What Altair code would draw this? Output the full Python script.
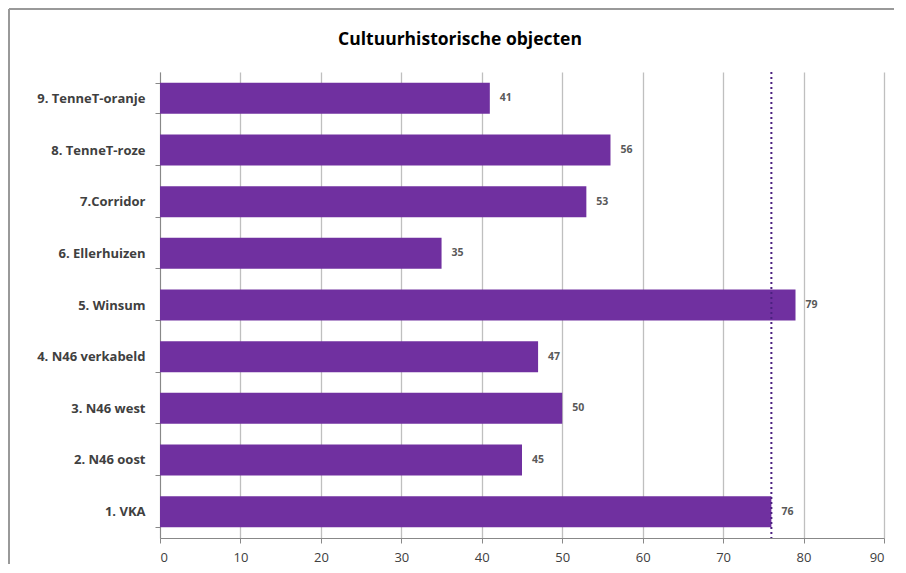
import altair as alt
import pandas as pd

categories = ["9. TenneT-oranje", "8. TenneT-roze", "7.Corridor", "6. Ellerhuizen",
              "5. Winsum", "4. N46 verkabeld", "3. N46 west", "2. N46 oost", "1. VKA"]
values = [41, 56, 53, 35, 79, 47, 50, 45, 76]
reference_value = [76]
title_text = "Cultuurhistorische objecten"

df = pd.DataFrame({"cat": categories, "val": values})
ref = pd.DataFrame({"ref": reference_value})

W, H = 724, 466
PL, PT = 152, 64

yenc = alt.Y("cat:N", sort=categories, title=None,
             scale=alt.Scale(paddingInner=0.42, paddingOuter=0.22),
             axis=alt.Axis(labelFont="Open Sans", labelFontSize=13, labelFontWeight="bold",
                           labelColor="#404040", labelPadding=10, tickBand="extent",
                           tickColor="#888888", tickSize=5, domainColor="#888888"))
xenc = alt.X("val:Q", title=None,
             scale=alt.Scale(domain=[0, 90], nice=False),
             axis=alt.Axis(values=list(range(0, 91, 10)), labelFont="Open Sans", labelFontSize=13,
                           labelColor="#404040", grid=True, gridColor="#BFBFBF", gridWidth=1.3,
                           tickColor="#888888", tickSize=5, domainColor="#888888", labelPadding=8))

bars = alt.Chart(df).mark_bar(color="#7030A0", size=31).encode(y=yenc, x=xenc)
labels = alt.Chart(df).mark_text(align="left", dx=10, font="Open Sans", fontSize=10.5,
                                 fontWeight="bold", color="#595959").encode(
    y=alt.Y("cat:N", sort=categories), x="val:Q", text="val:Q")
refline = alt.Chart(ref).mark_rule(color="#4B2080", strokeWidth=2, strokeDash=[2, 3]).encode(
    x="ref:Q")
title = alt.Chart(pd.DataFrame({"t": [title_text]})).mark_text(
    font="Open Sans", fontSize=17.5, fontWeight="bold", color="#000000", align="center").encode(
    text="t:N", x=alt.value(300), y=alt.value(-32))
frame_left = alt.Chart(pd.DataFrame({"a": [0]})).mark_rule(
    color="#999999", strokeWidth=2).encode(
    x=alt.value(-PL + 1), y=alt.value(-PT + 1), y2=alt.value(H + 80))
frame_top = alt.Chart(pd.DataFrame({"a": [0]})).mark_rule(
    color="#999999", strokeWidth=2).encode(
    x=alt.value(-PL + 1), x2=alt.value(W + 40), y=alt.value(-PT + 1))

chart = alt.layer(frame_left, frame_top, bars, labels, refline, title).properties(
    width=W, height=H,
    autosize=alt.AutoSizeParams(type="none"),
    padding={"left": PL, "top": PT, "right": 10, "bottom": 26},
).configure_view(stroke=None)

chart.save("out.html", embed_options={"renderer": "svg", "actions": False})
